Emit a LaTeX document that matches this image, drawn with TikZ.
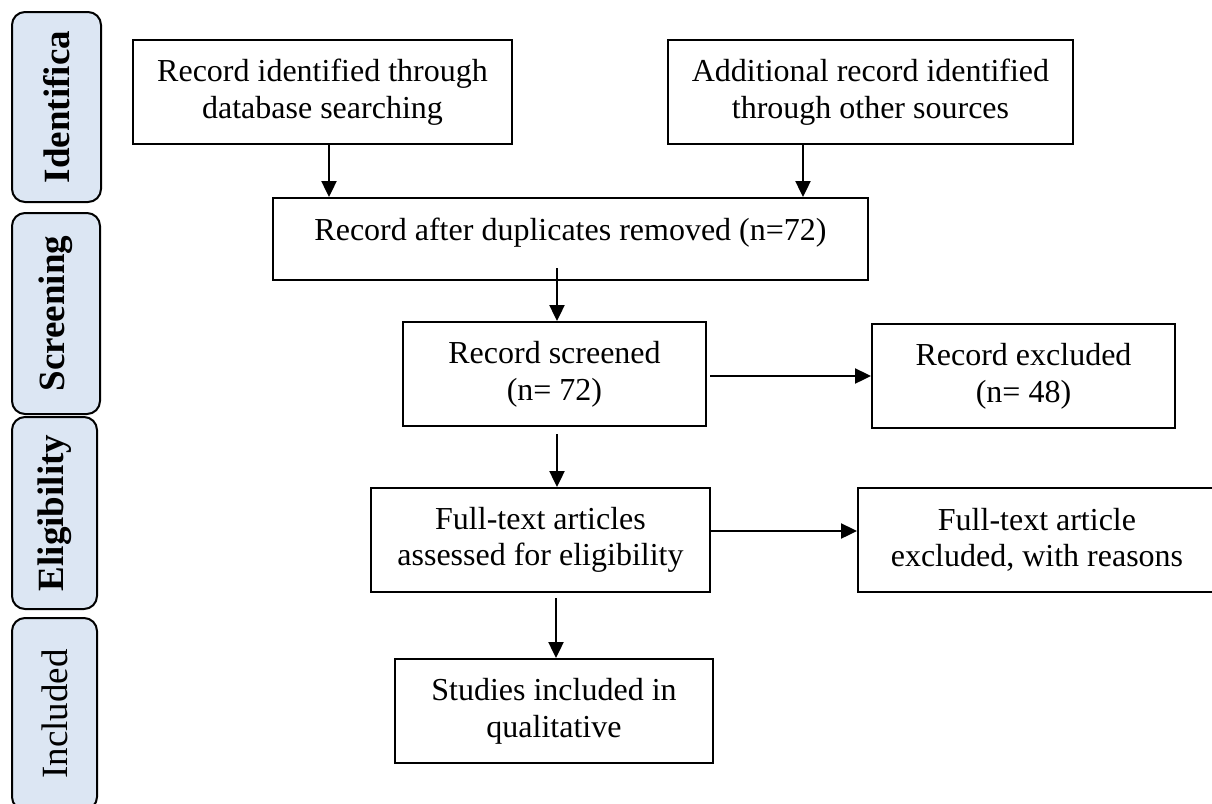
\documentclass[tikz,border=0pt]{standalone}
\usepackage{fontspec}
\setmainfont{Liberation Serif}
\usetikzlibrary{arrows.meta}
\definecolor{tabblue}{RGB}{220,230,243}
\tikzset{
  flowbox/.style={draw=black, line width=1pt, fill=white, rectangle, inner sep=0pt, align=center,
    font=\fontsize{16}{18.3}\selectfont},
  tabbox/.style={draw=black, line width=1pt, fill=tabblue, rectangle, rounded corners=6.5pt,
    rotate=90, inner sep=0pt, font=\fontsize{18.5}{20}\selectfont},
  arr/.style={draw=black, line width=1.2pt, -{Triangle[length=8pt,width=7.5pt]}},
  plain/.style={draw=black, line width=1pt}
}
\begin{document}
\begin{tikzpicture}[x=0.5pt, y=-0.5pt]
\useasboundingbox (0,0) rectangle (1212,804);
\clip (0,0) rectangle (1212,804);
% side tabs
\node[tabbox, minimum width=95pt, minimum height=44.5pt] (t1) at (56.5,107) {\bfseries Identifica};
\node[tabbox, minimum width=100.5pt, minimum height=44pt] (t2) at (56,313.5) {\bfseries Screening};
\node[tabbox, minimum width=96pt, minimum height=42.5pt] (t3) at (54.5,513) {\bfseries Eligibility};
\node[tabbox, minimum width=96pt, minimum height=42.5pt] (t4) at (54.5,714) {Included};
% boxes
\node[flowbox, minimum width=189.5pt, minimum height=52pt] (b1) at (322.5,92) {Record identified through\\database searching};
\node[flowbox, minimum width=202.5pt, minimum height=52pt] (b2) at (870.5,92) {Additional record identified\\through other sources};
\node[flowbox, minimum width=297.5pt, minimum height=41pt, text height=11pt, text depth=10pt] (b3) at (570.5,239) {Record after duplicates removed (n=72)};
\node[flowbox, minimum width=151.5pt, minimum height=52pt] (b4) at (554.5,374) {Record screened\\(n= 72)};
\node[flowbox, minimum width=151.5pt, minimum height=52pt] (b5) at (1023.5,376) {Record excluded\\(n= 48)};
\node[flowbox, minimum width=169.5pt, minimum height=52pt] (b6) at (540.5,540) {Full-text articles\\assessed for eligibility};
\node[flowbox, minimum width=179pt, minimum height=52pt] (b7) at (1037,540) {Full-text article\\excluded, with reasons};
\node[flowbox, minimum width=159pt, minimum height=52pt] (b8) at (554,711) {Studies included in\\qualitative};
% guide coordinates
\coordinate (c1) at (329,0);
\coordinate (c2) at (803,0);
\coordinate (c3) at (557,0);
\coordinate (c4) at (556,0);
\coordinate (r1) at (0,376);
\coordinate (r2) at (0,531);
% connectors
\draw[arr] (b1.south -| c1) -- (b3.north -| c1);
\draw[arr] (b2.south -| c2) -- (b3.north -| c2);
\draw[arr, shorten <=-6.5pt] (b3.south -| c3) -- (b4.north -| c3);
\draw[arr, shorten <=1.5pt] (b4.east |- r1) -- (b5.west |- r1);
\draw[arr, shorten <=3.5pt] (b4.south -| c3) -- (b6.north -| c3);
\draw[arr] (b6.east |- r2) -- (b7.west |- r2);
\draw[arr, shorten <=2.5pt] (b6.south -| c4) -- (b8.north -| c4);
\end{tikzpicture}
\end{document}
